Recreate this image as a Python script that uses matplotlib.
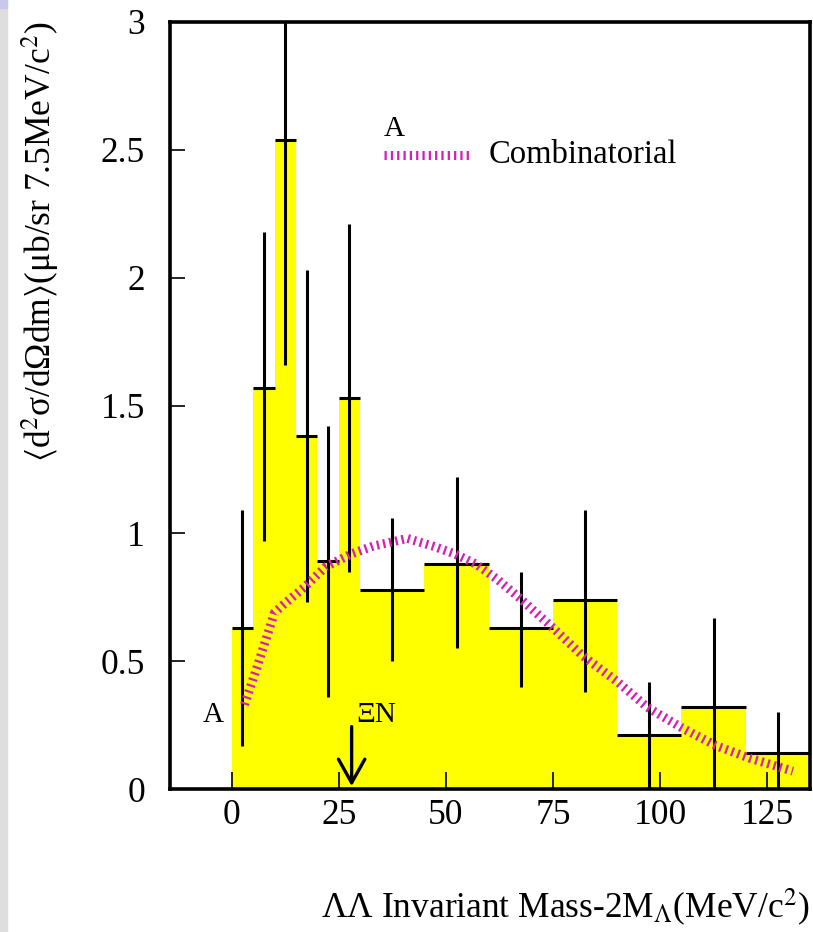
import numpy as np
import matplotlib.pyplot as plt
from matplotlib.patches import Rectangle

plt.rcParams['font.family'] = ['Liberation Serif', 'DejaVu Serif']
plt.rcParams['mathtext.fontset'] = 'stix'

# bin edges (MeV/c^2) and contents
edges = [0, 5, 10, 15, 20, 25, 30, 45, 60, 75, 90, 105, 120, 135]
counts = [0.63, 1.57, 2.54, 1.38, 0.89, 1.53, 0.78, 0.88, 0.63, 0.74, 0.21, 0.32, 0.14]
err_lo = [0.17, 0.97, 1.66, 0.73, 0.36, 0.85, 0.50, 0.55, 0.40, 0.38, 0.0, 0.0, 0.0]
err_hi = [1.09, 2.18, 3.30, 2.03, 1.42, 2.21, 1.06, 1.22, 0.85, 1.09, 0.42, 0.67, 0.30]

# combinatorial background
comb_x = [3, 6, 10, 12, 17, 22, 28, 33, 41, 47, 52, 57, 62, 67, 75, 82, 90, 97, 105, 113, 121, 131]
comb_y = [0.33, 0.48, 0.69, 0.72, 0.79, 0.87, 0.92, 0.95, 0.98, 0.95, 0.92, 0.88, 0.82, 0.75,
          0.63, 0.52, 0.42, 0.32, 0.24, 0.17, 0.12, 0.07]

xi_n = 28

edges = np.array(edges)
centers = 0.5 * (edges[:-1] + edges[1:])

fig = plt.figure(figsize=(8.13, 9.32), dpi=100)
fig.patches.append(Rectangle((0, 0), 7 / 813, 1, transform=fig.transFigure,
                             color='#dedede', zorder=0))
fig.patches.append(Rectangle((0, 1 - 8 / 932), 7 / 813, 8 / 932, transform=fig.transFigure,
                             color='#c8c8ea', zorder=0))
ax = fig.add_axes([170 / 813, 143 / 932, 640 / 813, 767 / 932])

ax.stairs(counts, edges, fill=True, color='#ffff00', zorder=1)
ax.hlines(counts, edges[:-1], edges[1:], color='k', lw=2.2, zorder=3)
ax.vlines(centers, err_lo, err_hi, color='k', lw=2.2, zorder=3)

comb_style = dict(color='#d81fb4', lw=6.5, dashes=(0.25, 0.45), solid_capstyle='butt',
                  dash_capstyle='butt', zorder=4)
ax.plot(comb_x, comb_y, **comb_style)

# legend drawn by hand
ax.plot([35.6, 55.4], [2.48, 2.48], **comb_style)
ax.text(35.4, 2.53, 'A', fontsize=21, ha='left', va='bottom')
ax.text(60, 2.48, 'Combinatorial', fontsize=23.5, ha='left', va='center')

ax.text(-4.4, 0.29, 'A', fontsize=21, ha='center', va='center')
ax.text(29.0, 0.29, 'ΞN', fontsize=21, ha='left', va='center')
ax.annotate('', xy=(xi_n, 0.0), xytext=(xi_n, 0.255),
            arrowprops=dict(arrowstyle='->,head_length=1.7,head_width=0.95', color='k', lw=2.4),
            zorder=5)

ax.set_xlim(-14.4, 135)
ax.set_ylim(0, 3)
ax.set_xticks([0, 25, 50, 75, 100, 125])
ax.set_yticks([0, 0.5, 1, 1.5, 2, 2.5, 3])
ax.set_yticklabels(['0', '0.5', '1', '1.5', '2', '2.5', '3'])
ax.tick_params(axis='x', direction='in', length=12, width=1.2, labelsize=25.5, pad=7)
ax.tick_params(axis='y', direction='in', length=11, width=1.2, labelsize=25.5, pad=18)
for s in ax.spines.values():
    s.set_linewidth(2.6)

ax.set_xlabel(r'ΛΛ Invariant Mass-2M$_{\Lambda}$(MeV/c$^{2}$)', fontsize=25.5, loc='right', labelpad=40)
ax.set_ylabel(r'$\langle$d$^{2}$σ/dΩdm$\rangle$(μb/sr 7.5MeV/c$^{2}$)', fontsize=25.5, loc='top', labelpad=28)

fig.savefig('out.png', dpi=100)
